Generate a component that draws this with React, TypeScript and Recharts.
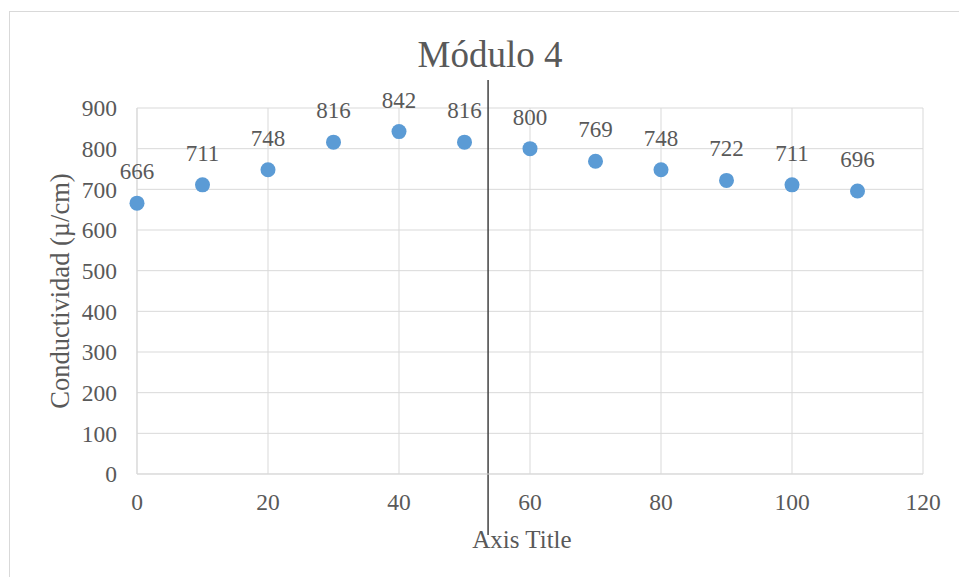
import React from 'react'
import {
  ScatterChart,
  Scatter,
  XAxis,
  YAxis,
  CartesianGrid,
  ReferenceLine,
  LabelList,
} from 'recharts'

// sampling positions and measured conductivity
const positions = [0, 10, 20, 30, 40, 50, 60, 70, 80, 90, 100, 110]
const conductivity = [666, 711, 748, 816, 842, 816, 800, 769, 748, 722, 711, 696]

const xTicks = [0, 20, 40, 60, 80, 100, 120]
const yTicks = [0, 100, 200, 300, 400, 500, 600, 700, 800, 900]

// divider drawn across the plot
const dividerX = 53.6
const dividerTop = 969
const dividerBottom = -150

const points = positions.map((x, i) => ({ x, y: conductivity[i] }))

const FONT = '"Liberation Serif", "Times New Roman", serif'
const TEXT = '#595959'
const GRID = '#d9d9d9'
const MARKER = '#5b9bd5'

const renderDot = (props: any) => (
  <circle cx={props.cx} cy={props.cy} r={7.5} fill={MARKER} />
)

const renderValue = (props: any) => {
  const vb = props.viewBox || props
  const cx = vb.x + vb.width / 2
  const cy = vb.y + vb.height / 2
  return (
    <text x={cx} y={cy - 24} textAnchor="middle" fill={TEXT} fontSize={23} fontFamily={FONT}>
      {props.value}
    </text>
  )
}

const renderXTitle = (props: any) => {
  const vb = props.viewBox
  return (
    <text x={vb.x + vb.width / 2 - 8} y={548} textAnchor="middle" fill={TEXT} fontSize={25} fontFamily={FONT}>
      Axis Title
    </text>
  )
}

const renderYTitle = () => (
  <text
    x={60}
    y={291}
    transform="rotate(-90 60 291)"
    textAnchor="middle"
    dominantBaseline="central"
    fill={TEXT}
    fontSize={26.5}
    fontFamily={FONT}
  >
    Conductividad (µ/cm)
  </text>
)

export default function App() {
  return (
    <div
      style={{
        position: 'fixed',
        left: 0,
        top: 0,
        width: 959,
        height: 577,
        overflow: 'hidden',
        background: '#fff',
      }}
    >
      <div
        style={{
          position: 'absolute',
          left: 9,
          top: 11,
          width: 980,
          height: 600,
          border: `1px solid ${GRID}`,
        }}
      />
      <div
        style={{
          position: 'absolute',
          left: 390,
          top: 37,
          width: 200,
          textAlign: 'center',
          fontFamily: FONT,
          fontSize: 37,
          lineHeight: '36px',
          color: TEXT,
        }}
      >
        Módulo 4
      </div>
      <div style={{ position: 'absolute', left: 0, top: 0 }}>
        <ScatterChart width={959} height={577} margin={{ top: 108, right: 36, bottom: 0, left: 0 }}>
          <CartesianGrid stroke={GRID} strokeWidth={1} />
          <XAxis
            type="number"
            dataKey="x"
            domain={[0, 120]}
            ticks={xTicks}
            height={103}
            tickLine={false}
            tickSize={0}
            tickMargin={19}
            axisLine={{ stroke: GRID }}
            tick={{ fill: TEXT, fontSize: 23.5, fontFamily: FONT }}
            label={{ content: renderXTitle }}
          />
          <YAxis
            type="number"
            dataKey="y"
            domain={[0, 900]}
            ticks={yTicks}
            width={137}
            tickLine={false}
            tickSize={0}
            tickMargin={20}
            axisLine={{ stroke: GRID }}
            tick={{ fill: TEXT, fontSize: 23.5, fontFamily: FONT }}
            label={{ content: renderYTitle }}
          />
          <Scatter data={points} fill={MARKER} shape={renderDot} isAnimationActive={false}>
            <LabelList dataKey="y" content={renderValue} />
          </Scatter>
          <ReferenceLine
            segment={[
              { x: dividerX, y: dividerTop },
              { x: dividerX, y: dividerBottom },
            ]}
            ifOverflow="visible"
            stroke="#404040"
            strokeWidth={1.5}
          />
        </ScatterChart>
      </div>
    </div>
  )
}
